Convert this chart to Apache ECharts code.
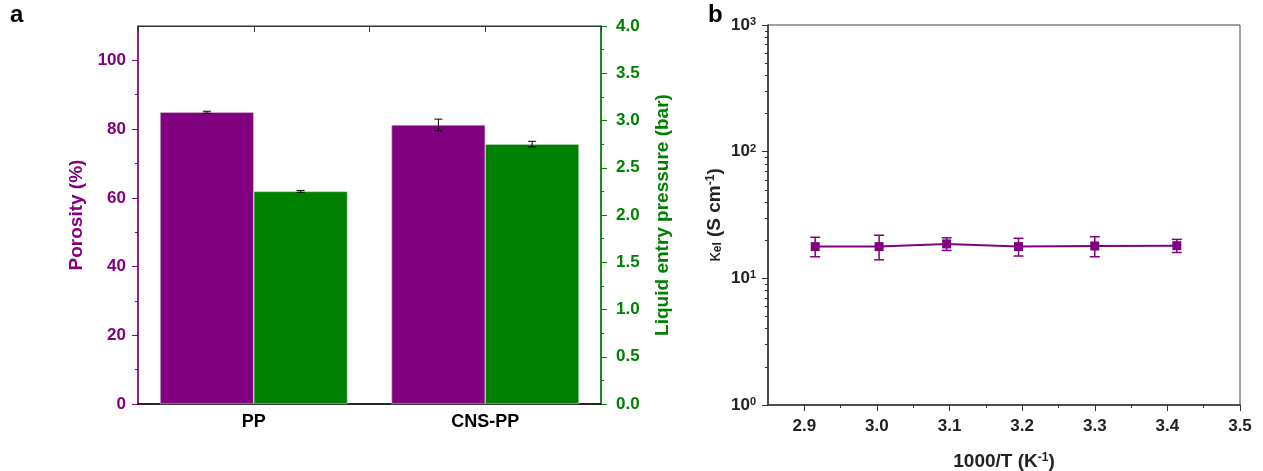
<!DOCTYPE html>
<html>
<head>
<meta charset="utf-8">
<script src="https://cdn.jsdelivr.net/npm/echarts@6/dist/echarts.min.js"></script>
<style>
html,body{margin:0;padding:0;background:#fff;}
#c{width:1263px;height:471px;}
</style>
</head>
<body>
<div id="c"></div>
<script>
// ---- Panel a data ----
const categories = ['PP', 'CNS-PP'];
const porosity = [84.9, 81.2];
const porosityErr = [0.3, 1.7];
const lep = [2.25, 2.75];
const lepErr = [0.01, 0.03];
const porosityTicks = [0, 20, 40, 60, 80, 100];
const porosityMinorTicks = [10, 30, 50, 70, 90];

// ---- Panel b data ----
const invT = [2.915, 3.003, 3.096, 3.195, 3.300, 3.413];
const kappa = [17.8, 17.8, 18.7, 17.8, 18.0, 18.1];
const kappaLow = [14.8, 14.0, 16.6, 15.0, 14.8, 16.0];
const kappaHigh = [21.1, 21.9, 20.9, 20.7, 21.3, 20.3];
const invTTicks = [2.9, 3.0, 3.1, 3.2, 3.3, 3.4, 3.5];
const invTMinorTicks = [2.95, 3.05, 3.15, 3.25, 3.35, 3.45];
const logMinorTicks = [2,3,4,5,6,7,8,9,20,30,40,50,60,70,80,90,200,300,400,500,600,700,800,900];

const PURPLE = '#800080';
const GREEN = '#008000';
const DARK = '#222222';
const FONT = '"Liberation Sans", Arial, sans-serif';

const chart = echarts.init(document.getElementById('c'), null, {renderer: 'canvas'});

function errA(sign) {
  return function (params, api) {
    const idx = api.value(0);
    const lo = api.coord([idx, api.value(1)]);
    const hi = api.coord([idx, api.value(2)]);
    const band = api.size([1, 0])[0];
    const x = lo[0] + sign * band * 0.2025;
    const w = 4;
    const st = {stroke: '#000', lineWidth: 1};
    return {type: 'group', children: [
      {type: 'line', shape: {x1: x, y1: lo[1], x2: x, y2: hi[1]}, style: st},
      {type: 'line', shape: {x1: x - w, y1: lo[1], x2: x + w, y2: lo[1]}, style: st},
      {type: 'line', shape: {x1: x - w, y1: hi[1], x2: x + w, y2: hi[1]}, style: st}
    ]};
  };
}

function errB(params, api) {
  const x = api.value(0);
  const lo = api.coord([x, api.value(1)]);
  const hi = api.coord([x, api.value(2)]);
  const w = 5;
  const st = {stroke: PURPLE, lineWidth: 1.5};
  return {type: 'group', children: [
    {type: 'line', shape: {x1: lo[0], y1: lo[1], x2: hi[0], y2: hi[1]}, style: st},
    {type: 'line', shape: {x1: lo[0] - w, y1: lo[1], x2: lo[0] + w, y2: lo[1]}, style: st},
    {type: 'line', shape: {x1: hi[0] - w, y1: hi[1], x2: hi[0] + w, y2: hi[1]}, style: st}
  ]};
}

const supRich = function (color, size) {
  return {
    b: {fontSize: size, fontWeight: 'bold', color: color, fontFamily: FONT},
    s: {fontSize: Math.round(size * 0.62), fontWeight: 'bold', color: color, fontFamily: FONT, verticalAlign: 'top'},
    sub: {fontSize: Math.round(size * 0.62), fontWeight: 'bold', color: color, fontFamily: FONT, verticalAlign: 'bottom'},
    k: {fontSize: size, color: color, fontFamily: FONT}
  };
};

const option = {
  animation: false,
  textStyle: {fontFamily: FONT},
  graphic: [
    {type: 'text', left: 10, top: 3, style: {text: 'a', fontSize: 24, fontWeight: 'bold', fill: '#000', fontFamily: FONT}},
    {type: 'text', left: 708, top: 3, style: {text: 'b', fontSize: 24, fontWeight: 'bold', fill: '#000', fontFamily: FONT}}
  ],
  grid: [
    {left: 138, top: 26, width: 463, height: 378, outerBoundsMode: 'none', containLabel: false,
      show: true, borderColor: '#333', borderWidth: 1, backgroundColor: 'transparent'},
    {left: 768, top: 25, width: 472, height: 380, outerBoundsMode: 'none', containLabel: false,
      show: true, borderColor: '#444', borderWidth: 1, backgroundColor: 'transparent'}
  ],
  xAxis: [
    {type: 'category', gridIndex: 0, data: categories, position: 'bottom',
      axisLine: {onZero: false, lineStyle: {color: '#000', width: 1.5}},
      axisTick: {show: false},
      axisLabel: {fontSize: 18, fontWeight: 'bold', color: '#000', margin: 9, fontFamily: FONT}},
    {type: 'value', gridIndex: 0, position: 'top', min: 0.5, max: 2.5, interval: 0.5,
      axisLine: {show: true, onZero: false, lineStyle: {color: '#333', width: 1}},
      axisTick: {show: true, inside: true, length: 6, lineStyle: {color: '#333'}},
      axisLabel: {show: false}, splitLine: {show: false}},
    {type: 'value', gridIndex: 1, position: 'bottom', min: 2.85, max: 3.5,
      name: '{b|1000/T (K}{s|-1}{b|)}', nameLocation: 'middle', nameGap: 47,
      nameTextStyle: {rich: supRich(DARK, 19)},
      axisLine: {onZero: false, lineStyle: {color: '#333', width: 1.5}},
      axisTick: {show: true, length: 6, customValues: invTTicks, lineStyle: {color: '#333'}},
      axisLabel: {customValues: invTTicks, fontSize: 17, fontWeight: 'bold', color: DARK, margin: 13, fontFamily: FONT,
        formatter: v => v.toFixed(1)},
      splitLine: {show: false}},
    {type: 'value', gridIndex: 1, position: 'bottom', min: 2.85, max: 3.5,
      axisLine: {show: false, onZero: false},
      axisTick: {show: true, length: 3, customValues: invTMinorTicks, lineStyle: {color: '#333'}},
      axisLabel: {show: false}, splitLine: {show: false}}
  ],
  yAxis: [
    {type: 'value', gridIndex: 0, position: 'left', min: 0, max: 110,
      name: 'Porosity (%)', nameLocation: 'middle', nameGap: 52, nameRotate: 90,
      nameTextStyle: {fontSize: 19, fontWeight: 'bold', color: PURPLE, fontFamily: FONT},
      axisLine: {show: true, onZero: false, lineStyle: {color: PURPLE, width: 1.5}},
      axisTick: {show: true, length: 6, customValues: porosityTicks, lineStyle: {color: PURPLE}},
      axisLabel: {customValues: porosityTicks, fontSize: 17, fontWeight: 'bold', color: PURPLE, margin: 12, fontFamily: FONT},
      splitLine: {show: false}},
    {type: 'value', gridIndex: 0, position: 'right', min: 0, max: 4, interval: 0.5,
      name: 'Liquid entry pressure (bar)', nameLocation: 'middle', nameGap: 52, nameRotate: 90,
      nameTextStyle: {fontSize: 19, fontWeight: 'bold', color: GREEN, fontFamily: FONT},
      axisLine: {show: true, onZero: false, lineStyle: {color: GREEN, width: 1.5}},
      axisTick: {show: true, length: 6, lineStyle: {color: GREEN}},
      minorTick: {show: true, splitNumber: 2, length: 3, lineStyle: {color: GREEN}},
      axisLabel: {fontSize: 17, fontWeight: 'bold', color: GREEN, margin: 15, fontFamily: FONT, formatter: v => v.toFixed(1)},
      splitLine: {show: false}},
    {type: 'value', gridIndex: 0, position: 'left', min: 0, max: 110,
      axisLine: {show: false, onZero: false},
      axisTick: {show: true, length: 3, customValues: porosityMinorTicks, lineStyle: {color: PURPLE}},
      axisLabel: {show: false}, splitLine: {show: false}},
    {type: 'log', logBase: 10, gridIndex: 1, position: 'left', min: 1, max: 1000,
      name: '{k|κ}{sub|el}{b| (S cm}{s|-1}{b|)}', nameLocation: 'middle', nameGap: 44, nameRotate: 90,
      nameTextStyle: {rich: supRich(DARK, 19)},
      axisLine: {show: true, onZero: false, lineStyle: {color: '#333', width: 1.5}},
      axisTick: {show: true, length: 6, lineStyle: {color: '#333'}},
      axisLabel: {margin: 12, formatter: v => '{b|10}{s|' + Math.round(Math.log10(v)) + '}', rich: supRich(DARK, 17)},
      splitLine: {show: false}},
    {type: 'log', logBase: 10, gridIndex: 1, position: 'left', min: 1, max: 1000,
      axisLine: {show: false, onZero: false},
      axisTick: {show: true, length: 3, customValues: logMinorTicks, lineStyle: {color: '#333'}},
      axisLabel: {show: false}, splitLine: {show: false}}
  ],
  series: [
    {type: 'bar', xAxisIndex: 0, yAxisIndex: 0, data: porosity, barGap: '0%', barCategoryGap: '19%',
      itemStyle: {color: PURPLE, borderColor: '#d8c8d8', borderWidth: 0.6}},
    {type: 'bar', xAxisIndex: 0, yAxisIndex: 1, data: lep, barGap: '0%', barCategoryGap: '19%',
      itemStyle: {color: GREEN, borderColor: '#c8d8c8', borderWidth: 0.6}},
    {type: 'custom', xAxisIndex: 0, yAxisIndex: 0, z: 5, renderItem: errA(-1),
      encode: {x: 0, y: [1, 2]},
      data: porosity.map((v, i) => [i, v - porosityErr[i], v + porosityErr[i]])},
    {type: 'custom', xAxisIndex: 0, yAxisIndex: 1, z: 5, renderItem: errA(1),
      encode: {x: 0, y: [1, 2]},
      data: lep.map((v, i) => [i, v - lepErr[i], v + lepErr[i]])},
    {type: 'custom', xAxisIndex: 2, yAxisIndex: 3, z: 4, renderItem: errB,
      encode: {x: 0, y: [1, 2]},
      data: invT.map((x, i) => [x, kappaLow[i], kappaHigh[i]])},
    {type: 'line', xAxisIndex: 2, yAxisIndex: 3, z: 5,
      data: invT.map((x, i) => [x, kappa[i]]),
      symbol: 'rect', symbolSize: 9,
      lineStyle: {color: PURPLE, width: 2},
      itemStyle: {color: PURPLE}}
  ]
};
chart.setOption(option);
</script>
</body>
</html>
